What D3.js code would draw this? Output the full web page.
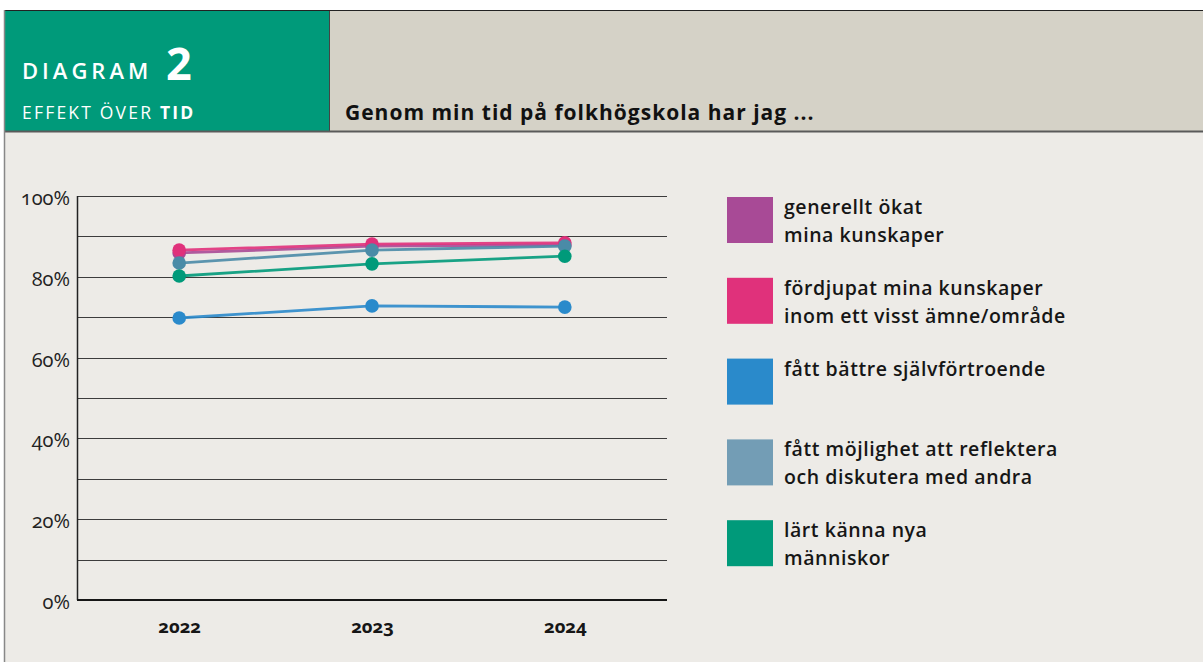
<!DOCTYPE html>
<html>
<head>
<meta charset="utf-8">
<script src="https://cdn.jsdelivr.net/npm/d3@7"></script>
<style>
	html, body { margin: 0; padding: 0; background: #ffffff; }
	svg { display: block; }
	.onum { font-variant-numeric: oldstyle-nums; }
</style>
</head>
<body>
<div id="chart"></div>
<script>
// data
const years = ['2022', '2023', '2024']
const seriesNames = [
	['generellt ökat', 'mina kunskaper'],
	['fördjupat mina kunskaper', 'inom ett visst ämne/område'],
	['fått bättre självförtroende'],
	['fått möjlighet att reflektera', 'och diskutera med andra'],
	['lärt känna nya', 'människor'],
]
const ökatKunskaper = [85.9, 87.6, 87.9]
const fördjupat = [86.6, 88.1, 88.4]
const självförtroende = [69.8, 72.8, 72.5]
const reflektera = [83.4, 86.6, 87.6]
const nyaMänniskor = [80.2, 83.2, 85.1]
const seriesValues = [ökatKunskaper, fördjupat, självförtroende, reflektera, nyaMänniskor]
const legendColors = ['#a84a96', '#e0317b', '#2a8acb', '#739db5', '#009a7a']
const lineColors = ['#a84a96', '#e0317b', '#2a8acb', '#4a8ba7', '#009a7a']
const yTicks = [0, 20, 40, 60, 80, 100]
const gridTicks = d3.range(0, 101, 10)

const width = 1203
const height = 662
const font = '"Open Sans", "Noto Sans", sans-serif'

const svg = d3.select('#chart')
	.append('svg')
	.attr('width', width)
	.attr('height', height)
	.style('font-family', font)

// frame + background
svg.append('rect')
	.attr('x', 4).attr('y', 10)
	.attr('width', width - 4).attr('height', height - 10)
	.attr('fill', '#edebe7')

// header boxes
svg.append('rect')
	.attr('x', 4).attr('y', 10)
	.attr('width', 325).attr('height', 121)
	.attr('fill', '#009a7a')
svg.append('rect')
	.attr('x', 329).attr('y', 10)
	.attr('width', width - 329).attr('height', 121)
	.attr('fill', '#d5d2c7')
svg.append('line')
	.attr('x1', 329.5).attr('x2', 329.5)
	.attr('y1', 10).attr('y2', 131)
	.attr('stroke', '#444').attr('stroke-width', 1)
svg.append('line')
	.attr('x1', 4).attr('x2', width)
	.attr('y1', 10.5).attr('y2', 10.5)
	.attr('stroke', '#222').attr('stroke-width', 1)
svg.append('line')
	.attr('x1', 4).attr('x2', width)
	.attr('y1', 131.5).attr('y2', 131.5)
	.attr('stroke', '#5a5a5a').attr('stroke-width', 2)
svg.append('line')
	.attr('x1', 4.5).attr('x2', 4.5)
	.attr('y1', 10).attr('y2', height)
	.attr('stroke', '#888').attr('stroke-width', 1.5)

// header texts
svg.append('text')
	.attr('x', 22).attr('y', 79)
	.attr('fill', '#fff')
	.style('font-size', '22px')
	.style('font-weight', 600)
	.style('letter-spacing', '4px')
	.text('DIAGRAM')
svg.append('text')
	.attr('x', 166).attr('y', 80)
	.attr('fill', '#fff')
	.style('font-size', '45px')
	.style('font-weight', 700)
	.text('2')
const sub = svg.append('text')
	.attr('x', 22).attr('y', 119)
	.attr('fill', '#fff')
	.style('font-size', '17.5px')
	.style('letter-spacing', '2.2px')
sub.append('tspan').text('EFFEKT ÖVER ')
sub.append('tspan').style('font-weight', 700).text('TID')
svg.append('text')
	.attr('x', 345).attr('y', 120)
	.attr('fill', '#111')
	.style('font-size', '21px')
	.style('font-weight', 700)
	.style('letter-spacing', '1px')
	.text('Genom min tid på folkhögskola har jag ...')

// scales
const x = d3.scalePoint()
	.domain(years)
	.range([77, 667])
	.padding(0.53)
const y = d3.scaleLinear()
	.domain([0, 100])
	.range([600, 196])

// gridlines
svg.append('g')
	.selectAll('line')
	.data(gridTicks)
	.join('line')
	.attr('x1', 77).attr('x2', 667)
	.attr('y1', d => Math.round(y(d)) + 0.5)
	.attr('y2', d => Math.round(y(d)) + 0.5)
	.attr('stroke', '#3c3c3c')
	.attr('stroke-width', 1.2)

// y axis line and baseline
svg.append('line')
	.attr('x1', 77.5).attr('x2', 77.5)
	.attr('y1', y(100)).attr('y2', y(0))
	.attr('stroke', '#222').attr('stroke-width', 1.5)
svg.append('line')
	.attr('x1', 77).attr('x2', 667)
	.attr('y1', y(0)).attr('y2', y(0))
	.attr('stroke', '#161616').attr('stroke-width', 2)

// y tick labels
const yAxis = svg.append('g')
	.attr('transform', 'translate(70,0)')
	.call(d3.axisLeft(y).tickValues(yTicks).tickSize(0).tickPadding(0).tickFormat(d => d + '%'))
yAxis.select('.domain').remove()
yAxis.selectAll('text')
	.attr('class', 'onum')
	.attr('dy', '0.42em')
	.attr('fill', '#222')
	.style('font-family', font)
	.style('font-size', '20px')

// x tick labels
const xAxis = svg.append('g')
	.attr('transform', `translate(0,${y(0)})`)
	.call(d3.axisBottom(x).tickSize(0).tickPadding(0))
xAxis.select('.domain').remove()
xAxis.selectAll('text')
	.attr('class', 'onum')
	.attr('y', 33)
	.attr('dy', 0)
	.attr('fill', '#161616')
	.style('font-family', font)
	.style('font-size', '18.5px')
	.style('font-weight', 700)

// lines + markers
const line = d3.line()
	.x((d, i) => x(years[i]))
	.y(d => y(d))

const series = svg.append('g')
	.selectAll('g')
	.data(seriesValues)
	.join('g')

series.append('path')
	.attr('d', d => line(d))
	.attr('fill', 'none')
	.attr('stroke', (d, i) => lineColors[i])
	.attr('stroke-width', 2.8)
	.attr('opacity', 0.9)

series.selectAll('circle')
	.data(d => d)
	.join('circle')
	.attr('cx', (d, i) => x(years[i]))
	.attr('cy', d => y(d))
	.attr('r', 6.8)
	.attr('fill', function () {
		return lineColors[seriesValues.indexOf(d3.select(this.parentNode).datum())]
	})

// legend
const legend = svg.append('g')
	.selectAll('g')
	.data(seriesNames)
	.join('g')
	.attr('transform', (d, i) => `translate(727,${197 + i * 80.8})`)

legend.append('rect')
	.attr('width', 46)
	.attr('height', 46)
	.attr('fill', (d, i) => legendColors[i])

legend.append('text')
	.attr('x', 57)
	.attr('y', 17)
	.attr('fill', '#161616')
	.style('font-size', '19.5px')
	.style('font-weight', 600)
	.style('letter-spacing', '0.55px')
	.selectAll('tspan')
	.data(d => d)
	.join('tspan')
	.attr('x', 57)
	.attr('dy', (d, i) => i === 0 ? 0 : 28)
	.text(d => d)
</script>
</body>
</html>
